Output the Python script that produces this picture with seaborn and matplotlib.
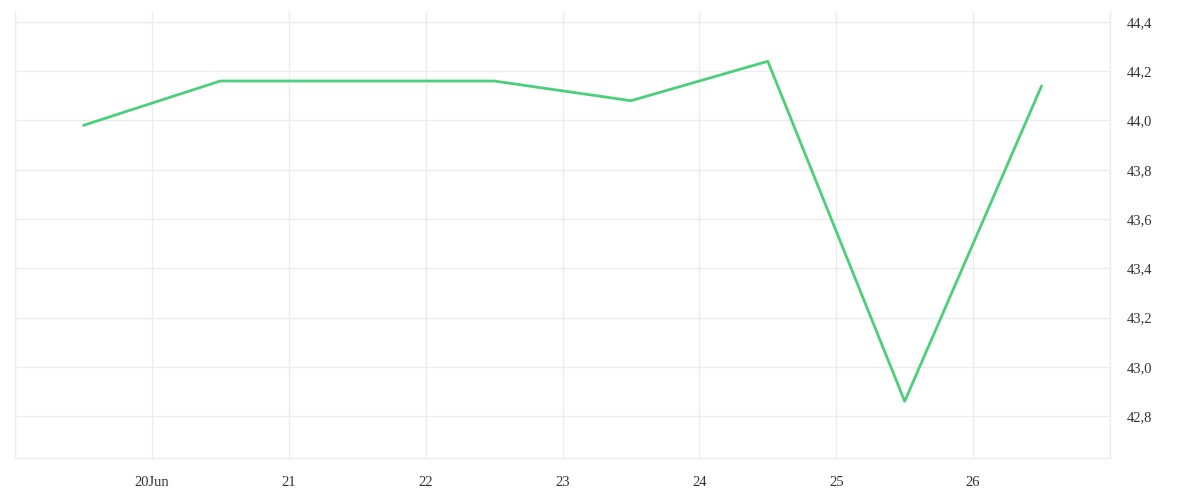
import pandas as pd
import numpy as np
import seaborn as sns
import matplotlib.pyplot as plt
import matplotlib.dates as mdates
from matplotlib.ticker import FuncFormatter

# data (one point per day, at noon)
dates = ["2023-06-19 12:00", "2023-06-20 12:00", "2023-06-21 12:00", "2023-06-22 12:00",
         "2023-06-23 12:00", "2023-06-24 12:00", "2023-06-25 12:00", "2023-06-26 12:00"]
values = [43.98, 44.16, 44.16, 44.16, 44.08, 44.24, 42.86, 44.14]

tick_days = ["2023-06-19", "2023-06-20", "2023-06-21", "2023-06-22", "2023-06-23",
             "2023-06-24", "2023-06-25", "2023-06-26", "2023-06-27"]
tick_labels = ["", "20Jun", "21", "22", "23", "24", "25", "26", ""]
y_ticks = [42.8, 43.0, 43.2, 43.4, 43.6, 43.8, 44.0, 44.2, 44.4]

df = pd.DataFrame({"date": pd.to_datetime(dates), "value": values})

sns.set_style("white")
plt.rcParams["font.family"] = ["Liberation Serif", "DejaVu Serif"]

grid_col = "#ececec"

fig = plt.figure(figsize=(12, 5), dpi=100)
ax = fig.add_axes([0.0125, 0.084, 0.9125, 0.892])

sns.lineplot(data=df, x="date", y="value", ax=ax, color="#4ccf7a", linewidth=2)

ax.set_xlim(pd.Timestamp(tick_days[0]), pd.Timestamp(tick_days[-1]))
ax.set_ylim(42.63, 44.44)

ax.set_xticks(pd.to_datetime(tick_days))
ax.set_xticklabels(tick_labels)
ax.set_yticks(y_ticks)
ax.yaxis.set_major_formatter(FuncFormatter(lambda v, p: f"{v:.1f}".replace(".", ",")))
ax.yaxis.tick_right()

ax.grid(True, color=grid_col, linewidth=1)
ax.tick_params(axis="x", length=10, width=1, color=grid_col, labelsize=10.5,
               labelcolor="#333333", pad=3)
ax.tick_params(axis="y", length=0, labelsize=10.5, labelcolor="#333333", pad=12)
for lab in ax.get_yticklabels():
    lab.set_verticalalignment("center_baseline")

ax.set_xlabel("")
ax.set_ylabel("")
for side in ["left", "right", "bottom"]:
    ax.spines[side].set_color(grid_col)
    ax.spines[side].set_linewidth(1)
ax.spines["top"].set_visible(False)

fig.savefig("out.png", dpi=100)
